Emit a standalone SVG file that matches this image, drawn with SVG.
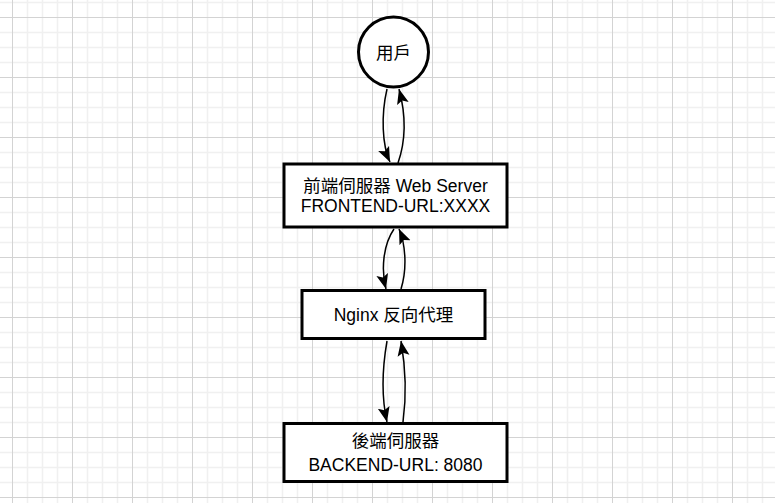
<svg xmlns="http://www.w3.org/2000/svg" width="775" height="503" viewBox="0 0 775 503">
<style>
.node{fill:#ffffff;stroke:#000000;stroke-width:3}
.lbl{font-family:"Liberation Sans","Noto Sans CJK TC",sans-serif;font-size:17.5px;fill:#000000;text-anchor:middle}
.edge{fill:none;stroke:#000000;stroke-width:1.5}
</style>
<defs>
<pattern id="grid" x="12" y="17" width="60" height="60" patternUnits="userSpaceOnUse">
<path d="M15.5,0V60M30.5,0V60M45.5,0V60M0,15.5H60M0,30.5H60M0,45.5H60" stroke="#f0f0f0" stroke-width="1.5" fill="none"/>
<path d="M0.5,0V60M0,0.5H60" stroke="#d3d3d3" stroke-width="1" fill="none"/>
</pattern>
<marker id="arr" markerUnits="userSpaceOnUse" markerWidth="16" markerHeight="14" refX="15" refY="6" orient="auto" viewBox="0 0 16 12">
<path d="M0,0 L15,6 L0,12 L3,6 Z" fill="#000000"/>
</marker>
</defs>
<rect width="775" height="503" fill="#ffffff"/>
<rect width="775" height="503" fill="url(#grid)"/>
<g id="connectors">
<path class="edge" d="M387,89 C381,115 382,145 390,162" marker-end="url(#arr)"/>
<path class="edge" d="M398,163 C406,140 406,115 399,89" marker-end="url(#arr)"/>
<path class="edge" d="M394,229 C383,245 381,270 386,289" marker-end="url(#arr)"/>
<path class="edge" d="M401,289 C407,270 406,245 399,229" marker-end="url(#arr)"/>
<path class="edge" d="M387,341 C382,370 382,400 387,422" marker-end="url(#arr)"/>
<path class="edge" d="M403,422 C406,400 406,370 401,341" marker-end="url(#arr)"/>
</g>
<g id="user">
<circle class="node" cx="393.5" cy="52" r="35"/>
<text class="lbl" x="393.5" y="59">用戶</text>
</g>
<g id="frontend">
<rect class="node" x="284" y="164" width="223" height="63"/>
<text class="lbl" x="395.5" y="192">前端伺服器 Web Server</text>
<text class="lbl" x="395.5" y="212">FRONTEND-URL:XXXX</text>
</g>
<g id="nginx">
<rect class="node" x="302" y="290.5" width="183" height="48"/>
<text class="lbl" x="393.5" y="321">Nginx 反向代理</text>
</g>
<g id="backend">
<rect class="node" x="284" y="423.5" width="223" height="58"/>
<text class="lbl" x="395.5" y="447">後端伺服器</text>
<text class="lbl" x="395.5" y="471">BACKEND-URL: 8080</text>
</g>
</svg>
